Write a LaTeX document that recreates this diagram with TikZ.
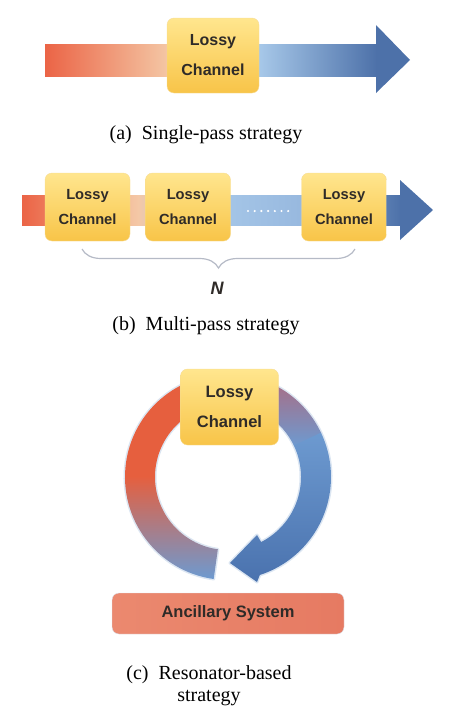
\documentclass[tikz,border=0pt]{standalone}
\usepackage{fontspec}
\setmainfont{Liberation Serif}
\setsansfont{Liberation Sans}
\usetikzlibrary{decorations.pathreplacing}
\definecolor{flowred}{HTML}{EB6446}
\definecolor{flowpeach}{HTML}{F4C8A6}
\definecolor{flowlight}{HTML}{AACBEB}
\definecolor{flowmid}{HTML}{98B9DF}
\definecolor{flowblue}{HTML}{4D71A9}
\definecolor{boxtop}{HTML}{FFE68E}
\definecolor{boxbot}{HTML}{F8C448}
\definecolor{boxedge}{HTML}{F6DC96}
\definecolor{inktext}{HTML}{2F2B28}
\definecolor{ancleft}{HTML}{EB896F}
\definecolor{ancright}{HTML}{E67A62}
\definecolor{bracegray}{HTML}{B5BAC6}
\definecolor{ringred}{HTML}{E65F3E}
\definecolor{ringlight}{HTML}{6D9AD0}
\definecolor{ringdark}{HTML}{4A72AE}
\definecolor{ringpurple}{HTML}{B0687C}
\definecolor{halo}{HTML}{DCE6F2}

\begin{document}
\begin{tikzpicture}[x=1pt, y=1pt,
    channel/.style ={rounded corners=7pt, top color=boxtop, bottom color=boxbot, draw=boxedge,
                     align=center, text=inktext},
    ancillary/.style ={rounded corners=7pt, left color=ancleft, right color=ancright, draw=halo,
                     text=inktext, minimum width=232pt, minimum height=41pt,
                     font=\sffamily\bfseries\fontsize{16.5}{20}\selectfont},
    caption/.style ={font=\fontsize{20}{22}\selectfont, align=center}]
   \useasboundingbox (0,0) rectangle (449,-718);
   % (a)
   \shade[left color=flowred, right color=flowpeach] (45,-44) rectangle (170,-76);
   \shade[left color=flowlight, right color=flowblue] (255,-44) rectangle (377,-76);
   \fill[flowblue] (376,-25) -- (410,-60) -- (376,-93) -- cycle;
   \node[channel, minimum width=92pt, minimum height=75pt,
         font=\sffamily\bfseries\fontsize{16}{30}\selectfont] (LA) at (213,-55.5) {Lossy\\Channel};
   \node[caption, anchor=base] (capA) at (206,-139) {(a)\ \ Single-pass strategy};
   % (b)
   \shade[left color=flowred, right color=flowpeach] (22,-195) rectangle (138,-225);
   \shade[left color=flowpeach, right color=flowlight] (138,-195) rectangle (190,-225);
   \shade[left color=flowlight, right color=flowmid] (190,-195) rectangle (300,-225);
   \shade[left color=flowmid, right color=flowblue] (300,-195) rectangle (401,-225);
   \fill[flowblue] (400,-180) -- (433,-210) -- (400,-240) -- cycle;
   \foreach \k in {0,...,6}
     \fill[white] (248+6.7*\k,-211) circle (1.2);
   \node[channel, minimum width=85pt, minimum height=68pt,
         font=\sffamily\bfseries\fontsize{14.7}{25}\selectfont] (LB1) at (87.5,-207) {Lossy\\Channel};
   \node[channel, minimum width=85pt, minimum height=68pt,
         font=\sffamily\bfseries\fontsize{14.7}{25}\selectfont] (LB2) at (188,-207) {Lossy\\Channel};
   \node[channel, minimum width=85pt, minimum height=68pt,
         font=\sffamily\bfseries\fontsize{14.7}{25}\selectfont] (LB3) at (344,-207) {Lossy\\Channel};
   \coordinate (BL) at (82,-249);
   \coordinate (BR) at (355,-249);
   \draw[bracegray, line width=1.2pt, decorate, decoration={brace, mirror, amplitude=19pt}] (BL) -- (BR);
   \node[text=inktext, font=\sffamily\bfseries\itshape\fontsize{18}{18}\selectfont] (N) at (217,-288) {N};
   \node[caption, anchor=base] (capB) at (206,-330) {(b)\ \ Multi-pass strategy};
   % (c)
   \begin{scope}[shift={(228,-477)}]
     \draw[halo, line width=3pt, line join=round]
       (262:103) arc[start angle=262, end angle=-72, radius=103] -- (29,-105) -- (2,-86) -- (29,-58)
       -- (-63:73) arc[start angle=-63, end angle=262, radius=73] -- cycle;
     \shade[top color=ringred, bottom color=ringlight, middle color=ringred]
       (262:103) arc[start angle=262, end angle=89, radius=103] -- (89:73)
       arc[start angle=89, end angle=262, radius=73] -- cycle;
     \shade[top color=ringpurple, bottom color=ringlight]
       (91:103) arc[start angle=91, end angle=25, radius=103] -- (25:73)
       arc[start angle=25, end angle=91, radius=73] -- cycle;
     \shade[top color=ringlight, bottom color=ringdark]
       (25.5:103) arc[start angle=25.5, end angle=-72, radius=103] -- (29,-105) -- (2,-86) -- (29,-58)
       -- (-63:73) arc[start angle=-63, end angle=25.5, radius=73] -- cycle;
   \end{scope}
   \node[channel, minimum width=98pt, minimum height=76pt,
         font=\sffamily\bfseries\fontsize{16.5}{30}\selectfont] (LC) at (229.5,-407) {Lossy\\Channel};
   \node[ancillary] (AS) at (228,-613.5) {Ancillary System};
   \node[caption] (capC) at (209,-686) {(c)\ \ Resonator-based\\strategy};
 \end{tikzpicture}
\end{document}
